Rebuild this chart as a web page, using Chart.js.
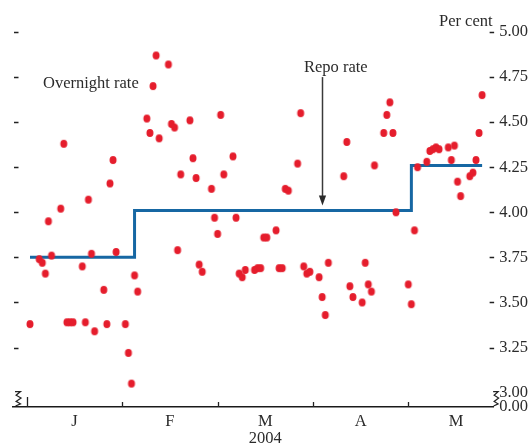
<!DOCTYPE html>
<html>
<head>
<meta charset="utf-8">
<script src="https://cdn.jsdelivr.net/npm/chart.js@4.4.1/dist/chart.umd.min.js"></script>
<style>
  html, body { margin: 0; padding: 0; background: #ffffff; }
  #wrap { width: 532px; height: 445px; position: relative; }
</style>
</head>
<body>
<div id="wrap"><canvas id="chart" width="532" height="445"></canvas></div>
<script>
// Sterling overnight interest rate and Bank of England repo rate, Jan-May 2004 (per cent)
const tradingDates = [
  '2004-01-02','2004-01-05','2004-01-06','2004-01-07','2004-01-08','2004-01-09',
  '2004-01-12','2004-01-13','2004-01-14','2004-01-15','2004-01-16',
  '2004-01-19','2004-01-20','2004-01-21','2004-01-22','2004-01-23',
  '2004-01-26','2004-01-27','2004-01-28','2004-01-29','2004-01-30',
  '2004-02-02','2004-02-03','2004-02-04','2004-02-05','2004-02-06',
  '2004-02-09','2004-02-10','2004-02-11','2004-02-12','2004-02-13',
  '2004-02-16','2004-02-17','2004-02-18','2004-02-19','2004-02-20',
  '2004-02-23','2004-02-24','2004-02-25','2004-02-26','2004-02-27',
  '2004-03-01','2004-03-02','2004-03-03','2004-03-04','2004-03-05',
  '2004-03-08','2004-03-09','2004-03-10','2004-03-11','2004-03-12',
  '2004-03-15','2004-03-16','2004-03-17','2004-03-18','2004-03-19',
  '2004-03-22','2004-03-23','2004-03-24','2004-03-25','2004-03-26',
  '2004-03-29','2004-03-30','2004-03-31','2004-04-01','2004-04-02',
  '2004-04-05','2004-04-06','2004-04-07','2004-04-08',
  '2004-04-13','2004-04-14','2004-04-15','2004-04-16',
  '2004-04-19','2004-04-20','2004-04-21','2004-04-22','2004-04-23',
  '2004-04-26','2004-04-27','2004-04-28','2004-04-29','2004-04-30',
  '2004-05-04','2004-05-05','2004-05-06','2004-05-07',
  '2004-05-10','2004-05-11','2004-05-12','2004-05-13','2004-05-14',
  '2004-05-17','2004-05-18','2004-05-19','2004-05-20','2004-05-21',
  '2004-05-24','2004-05-25','2004-05-26','2004-05-27','2004-05-28'
];

const overnightRate = [
  3.38, 3.74, 3.72, 3.66, 3.95, 3.76,
  4.02, 4.38, 3.39, 3.39, 3.39,
  3.70, 3.39, 4.07, 3.77, 3.34,
  3.57, 3.38, 4.16, 4.29, 3.78,
  3.38, 3.22, 3.05, 3.65, 3.56,
  4.52, 4.44, 4.70, 4.87, 4.41,
  4.82, 4.49, 4.47, 3.79, 4.21,
  4.51, 4.30, 4.19, 3.71, 3.67,
  4.13, 3.97, 3.88, 4.54, 4.21,
  4.31, 3.97, 3.66, 3.64, 3.68,
  3.68, 3.69, 3.69, 3.86, 3.86,
  3.90, 3.69, 3.69, 4.13, 4.12,
  4.27, 4.55, 3.70, 3.66, 3.67,
  3.64, 3.53, 3.43, 3.72,
  4.20, 4.39, 3.59, 3.53,
  3.50, 3.72, 3.60, 3.56, 4.26,
  4.44, 4.54, 4.61, 4.44, 4.00,
  3.60, 3.49, 3.90, 4.25,
  4.28, 4.34, 4.35, 4.36, 4.35,
  4.36, 4.29, 4.37, 4.17, 4.09,
  4.20, 4.22, 4.29, 4.44, 4.65
];

const repoDates = ['2004-01-02', '2004-02-05', '2004-05-05', '2004-05-28'];
const repoRate = [3.75, 4.01, 4.26, 4.26];

const monthLabels = ['J', 'F', 'M', 'A', 'M'];
const yearLabel = '2004';
const yTickValues = [3.00, 3.25, 3.50, 3.75, 4.00, 4.25, 4.50, 4.75, 5.00];
const yTickLabels = ['3.00', '3.25', '3.50', '3.75', '4.00', '4.25', '4.50', '4.75', '5.00'];
const brokenAxisLabel = '0.00';

// ---- helpers ----
const FONT = '"Liberation Serif", "Times New Roman", serif';
const TEXT = '#2b2b2b';
const DAY_MS = 86400000;
const YEAR_START = Date.UTC(2004, 0, 1);
const dayOfYear = s => {
  const [y, m, d] = s.split('-').map(Number);
  return (Date.UTC(y, m - 1, d) - YEAR_START) / DAY_MS;
};
const MONTH_STEP = 31;     // spacing of the month divisions on the time axis (days)
const AXIS_FLOOR = 2.92;   // bottom of the broken value axis

const overnightPoints = tradingDates.map((d, i) => ({ x: dayOfYear(d), y: overnightRate[i] }));
const repoPoints = repoDates.map((d, i) => ({ x: dayOfYear(d), y: repoRate[i] }));

// small upright oval used for the overnight-rate markers
function makeDot(color) {
  const c = document.createElement('canvas');
  c.width = 10; c.height = 10;
  const g = c.getContext('2d');
  g.fillStyle = color;
  g.beginPath();
  g.ellipse(5, 5, 3.5, 4.1, 0, 0, Math.PI * 2);
  g.fill();
  return c;
}
const redDot = makeDot('#e51d2c');

// axis furniture and annotations
const decorations = {
  id: 'decorations',
  afterDraw(chart) {
    const { ctx, chartArea: a, scales: { x, y } } = chart;
    ctx.save();
    ctx.strokeStyle = '#222';
    ctx.lineWidth = 1.3;
    ctx.lineCap = 'butt';

    // value ticks on both sides
    yTickValues.forEach(v => {
      if (v <= 3.0) return;
      const py = Math.round(y.getPixelForValue(v)) + 0.5;
      ctx.beginPath();
      ctx.moveTo(a.left + 1, py); ctx.lineTo(a.left + 5.5, py);
      ctx.moveTo(a.right - 3.5, py); ctx.lineTo(a.right + 1, py);
      ctx.stroke();
    });

    // axis break marks
    const top = y.getPixelForValue(3.0) - 1;
    const bot = a.bottom - 1;
    const h = bot - top;
    const zig = (x0, w) => {
      ctx.beginPath();
      ctx.moveTo(x0, top);
      ctx.lineTo(x0 + w, top);
      ctx.lineTo(x0 + w * 0.2, top + h * 0.25);
      ctx.lineTo(x0 + w * 1.1, top + h * 0.45);
      ctx.lineTo(x0 + w * 0.2, top + h * 0.68);
      ctx.lineTo(x0 + w, top + h * 0.85);
      ctx.lineTo(x0 + w * 0.1, bot);
      ctx.stroke();
    };
    ctx.lineWidth = 1.2;
    zig(a.left + 2, 5.5);
    zig(a.right, 5);

    // month divisions on the time axis
    ctx.lineWidth = 1.3;
    monthLabels.forEach((m, i) => {
      const px = Math.round(x.getPixelForValue(i * MONTH_STEP)) + 0.5;
      ctx.beginPath();
      ctx.moveTo(px, a.bottom);
      ctx.lineTo(px, a.bottom - (i === 0 ? 10 : 5));
      ctx.stroke();
    });

    // text annotations
    ctx.fillStyle = TEXT;
    ctx.font = '16.5px ' + FONT;
    ctx.textBaseline = 'alphabetic';
    ctx.textAlign = 'left';
    ctx.fillText('Overnight rate', 43, 88);
    ctx.fillText('Repo rate', 304, 71.5);
    ctx.fillText('Per cent', 439, 25.5);

    // arrow pointing at the repo rate
    const ax = Math.round(x.getPixelForValue(dayOfYear('2004-04-06'))) + 0.5;
    const ay0 = y.getPixelForValue(4.75);
    const tip = y.getPixelForValue(repoRate[1]) - 5;
    ctx.strokeStyle = '#3a3a3a';
    ctx.fillStyle = '#2a2a2a';
    ctx.lineWidth = 1.5;
    ctx.beginPath();
    ctx.moveTo(ax, ay0);
    ctx.lineTo(ax, tip - 8);
    ctx.stroke();
    ctx.beginPath();
    ctx.moveTo(ax - 3.6, tip - 10);
    ctx.lineTo(ax + 3.6, tip - 10);
    ctx.lineTo(ax, tip);
    ctx.closePath();
    ctx.fill();
    ctx.restore();
  }
};

new Chart(document.getElementById('chart'), {
  type: 'scatter',
  data: {
    datasets: [
      {
        label: 'Overnight rate',
        data: overnightPoints,
        pointStyle: redDot,
        pointRadius: 4,
        showLine: false
      },
      {
        type: 'line',
        label: 'Repo rate',
        data: repoPoints,
        stepped: 'before',
        borderColor: '#1667a3',
        borderWidth: 3,
        borderJoinStyle: 'miter',
        borderCapStyle: 'butt',
        pointRadius: 0,
        fill: false,
        tension: 0
      }
    ]
  },
  options: {
    responsive: false,
    animation: false,
    devicePixelRatio: 1,
    layout: { padding: { left: 13, top: 32, right: -2, bottom: -8 } },
    plugins: { legend: { display: false }, tooltip: { enabled: false } },
    scales: {
      x: {
        type: 'linear',
        min: -4.52,
        max: 151.58,
        grid: { display: false, drawTicks: false },
        border: { display: true, color: '#1a1a1a', width: 1.4 },
        afterBuildTicks: s => { s.ticks = monthLabels.map((m, i) => ({ value: i * MONTH_STEP + MONTH_STEP / 2 })); },
        ticks: {
          autoSkip: false,
          maxRotation: 0,
          padding: 6,
          color: TEXT,
          font: { family: FONT, size: 16.5, lineHeight: 1.03 },
          callback: (v, i) => (i === 2 ? [monthLabels[i], yearLabel] : monthLabels[i])
        }
      },
      y: {
        position: 'right',
        min: AXIS_FLOOR,
        max: 5.0,
        grid: { display: false, drawTicks: false },
        border: { display: false },
        afterBuildTicks: s => {
          s.ticks = [{ value: AXIS_FLOOR }].concat(yTickValues.map(v => ({ value: v })));
        },
        ticks: {
          autoSkip: false,
          padding: 6,
          color: TEXT,
          font: { family: FONT, size: 16.5, lineHeight: 1.0 },
          callback: (v, i) => (i === 0 ? brokenAxisLabel : yTickLabels[i - 1])
        }
      }
    }
  },
  plugins: [decorations]
});
</script>
</body>
</html>
